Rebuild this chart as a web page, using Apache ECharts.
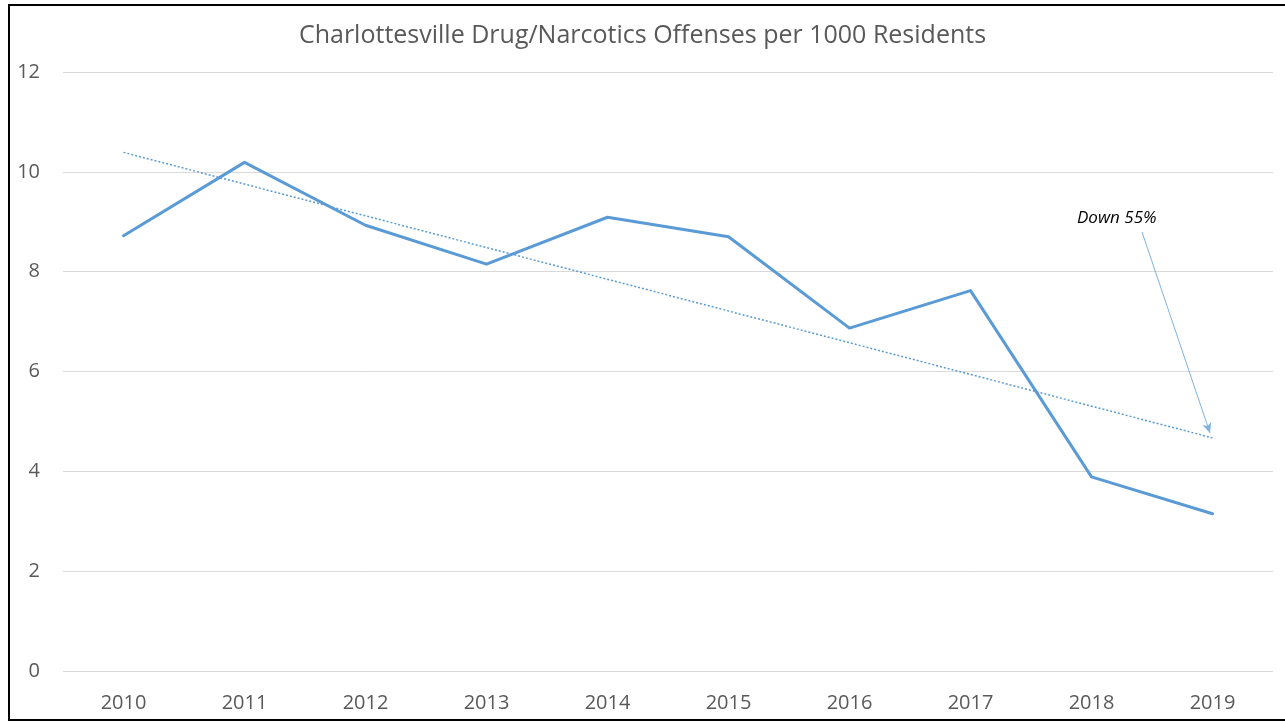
<!DOCTYPE html>
<html>
<head>
<meta charset="utf-8">
<script src="https://cdn.jsdelivr.net/npm/echarts@6/dist/echarts.min.js"></script>
<style>
  html, body { margin: 0; padding: 0; background: #fff; }
  #chart { width: 1285px; height: 723px; }
</style>
</head>
<body>
<div id="chart"></div>
<script>
// data
var years = ['2010', '2011', '2012', '2013', '2014', '2015', '2016', '2017', '2018', '2019'];
var offenses = [8.72, 10.19, 8.93, 8.15, 9.09, 8.70, 6.87, 7.62, 3.89, 3.15];
// linear trend end points (first / last year)
var trendEnds = [10.39, 4.67];
var yTicks = [0, 2, 4, 6, 8, 10, 12];

var chart = echarts.init(document.getElementById('chart'));
var font = '"Open Sans", sans-serif';

var option = {
    backgroundColor: '#fff',
    animation: false,
    textStyle: { fontFamily: font },
    title: {
        text: 'Charlottesville Drug/Narcotics Offenses per 1000 Residents',
        left: 'center',
        top: 18,
        textStyle: { fontSize: 25, fontWeight: 'normal', color: '#595959', fontFamily: font }
    },
    grid: { left: 63, right: 12, top: 72, bottom: 52 },
    xAxis: {
        type: 'category',
        data: years,
        boundaryGap: true,
        axisLine: { show: false },
        axisTick: { show: false },
        axisLabel: { color: '#595959', fontSize: 20, margin: 22 }
    },
    yAxis: {
        type: 'value',
        min: yTicks[0],
        max: yTicks[yTicks.length - 1],
        interval: 2,
        axisLine: { show: false },
        axisTick: { show: false },
        axisLabel: { color: '#595959', fontSize: 20, margin: 23 },
        splitLine: { lineStyle: { color: '#d9d9d9', width: 1 } }
    },
    series: [{
        name: 'Offenses',
        type: 'line',
        data: offenses,
        symbol: 'none',
        lineStyle: { color: '#5b9bd5', width: 3, cap: 'round', join: 'round' },
        markLine: {
            silent: true,
            symbol: 'none',
            label: { show: false },
            lineStyle: { color: '#5b9bd5', width: 1.5, type: [2, 2] },
            data: [
                [{ coord: [years[0], trendEnds[0]] }, { coord: [years[years.length - 1], trendEnds[1]] }],
                // annotation arrow
                [{ x: 1142, y: 232, symbol: 'none', lineStyle: { type: 'solid', width: 1, color: '#7fb2e0' } },
                 { x: 1210, y: 433, symbol: 'arrow', symbolSize: [7, 10] }]
            ]
        }
    }],
    graphic: [
        {
            type: 'text',
            left: 1077,
            top: 210,
            style: { text: 'Down 55%', fill: '#000', font: 'italic 17px ' + font }
        },
        {
            type: 'rect',
            shape: { x: 9, y: 5, width: 1290, height: 715 },
            style: { fill: null, stroke: '#000', lineWidth: 2 },
            silent: true
        }
    ]
};

chart.setOption(option);
</script>
</body>
</html>
